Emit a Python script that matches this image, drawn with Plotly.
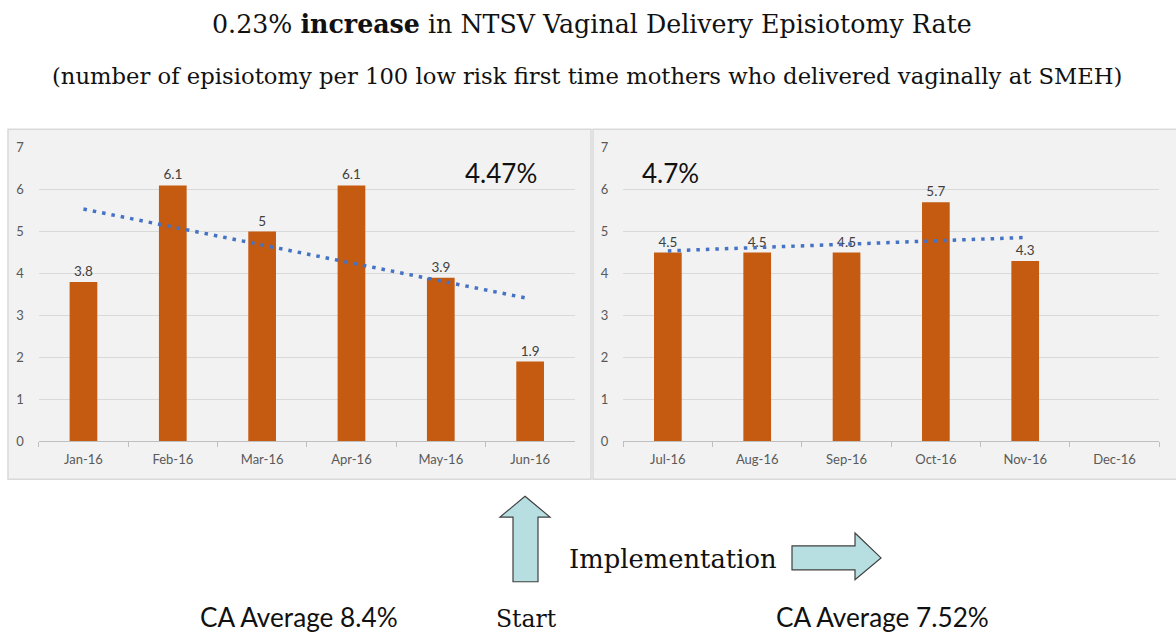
import numpy as np
import plotly.graph_objects as go

W, H = 1176, 636

months_h1 = ["Jan-16", "Feb-16", "Mar-16", "Apr-16", "May-16", "Jun-16"]
rates_h1 = [3.8, 6.1, 5.0, 6.1, 3.9, 1.9]
months_h2 = ["Jul-16", "Aug-16", "Sep-16", "Oct-16", "Nov-16", "Dec-16"]
rates_h2 = [4.5, 4.5, 4.5, 5.7, 4.3, None]
y_ticks = [0, 1, 2, 3, 4, 5, 6, 7]
avg_h1_label = "4.47%"
avg_h2_label = "4.7%"

BAR = "#c55a11"
TREND = "#4472c4"
SANS = "Lato, 'Open Sans', sans-serif"
SERIF = "'DejaVu Serif', 'Liberation Serif', serif"

# vertical calibration of the rendered page (measured offset / scale)
OY, SY = 6.2, 0.98


def px(x, y):
    return x / W, 1 - ((y - OY) / SY) / H


def fmt(v):
    return ("%g" % v)


def trend(vals):
    xs = np.array([i for i, v in enumerate(vals) if v is not None], float)
    ys = np.array([v for v in vals if v is not None], float)
    m, b = np.polyfit(xs, ys, 1)
    return xs, m * xs + b


fig = go.Figure()

for months, vals, xa, ya in [(months_h1, rates_h1, "x", "y"), (months_h2, rates_h2, "x2", "y2")]:
    fig.add_trace(go.Bar(
        x=months, y=vals, xaxis=xa, yaxis=ya, width=0.31,
        marker=dict(color=BAR, line=dict(width=0)),
        text=[fmt(v) if v is not None else "" for v in vals],
        textposition="outside", cliponaxis=False,
        textfont=dict(family=SANS, size=13.5, color="#404040"),
        showlegend=False, hoverinfo="x+y"))
    tx, ty = trend(vals)
    fig.add_trace(go.Scatter(
        x=[months[int(i)] for i in tx], y=ty, xaxis=xa, yaxis=ya, mode="lines",
        line=dict(color=TREND, width=3.5, dash="3.5px,6px"),
        showlegend=False, hoverinfo="skip"))

# panel backgrounds
shapes = []
for x0, x1 in [(8, 591), (593, 1180)]:
    a0, b0 = px(x0, 480)
    a1, b1 = px(x1, 128)
    shapes.append(dict(type="rect", xref="paper", yref="paper", x0=a0, x1=a1, y0=b0, y1=b1,
                       fillcolor="#f2f2f2", line=dict(color="#d9d9d9", width=1.5), layer="below"))


def poly_path(pts):
    s = ""
    for i, (x, y) in enumerate(pts):
        a, b = px(x, y)
        s += ("M" if i == 0 else "L") + f"{a:.5f},{b:.5f} "
    return s + "Z"


up_arrow = [(525, 497), (550, 518), (538, 518), (538, 583), (513, 583), (513, 518), (500, 518)]
right_arrow = [(792, 547), (855, 547), (855, 534), (881, 559), (855, 581), (855, 571), (792, 571)]
for pts in (up_arrow, right_arrow):
    shapes.append(dict(type="path", xref="paper", yref="paper", path=poly_path(pts),
                       fillcolor="#b7dee0", line=dict(color="#3f3f3f", width=1.2)))

axis_common = dict(
    tickfont=dict(family=SANS, size=13, color="#595959"),
)

y_dom = [px(0, 441.7)[1], px(0, 146.7)[1]]
fig.update_layout(
    width=W, height=H, margin=dict(l=0, r=0, t=0, b=0),
    paper_bgcolor="white", plot_bgcolor="rgba(0,0,0,0)",
    xaxis=dict(domain=[38.8 / W, 574.8 / W], type="category", categoryorder="array",
               categoryarray=months_h1, showline=True, linecolor="#bfbfbf", linewidth=1,
               ticks="outside", tickson="boundaries", ticklen=5, tickcolor="#bfbfbf",
               showgrid=False, ticklabelstandoff=6, anchor="y", **axis_common),
    yaxis=dict(domain=y_dom, range=[0, 7], tickvals=y_ticks, showgrid=True,
               gridcolor="#d9d9d9", gridwidth=1, zeroline=False, showline=False,
               ticklabelstandoff=14, anchor="x", **axis_common),
    xaxis2=dict(domain=[623.2 / W, 1159.2 / W], type="category", categoryorder="array",
                categoryarray=months_h2, showline=True, linecolor="#bfbfbf", linewidth=1,
                ticks="outside", tickson="boundaries", ticklen=5, tickcolor="#bfbfbf",
                showgrid=False, ticklabelstandoff=6, anchor="y2", **axis_common),
    yaxis2=dict(domain=y_dom, range=[0, 7], tickvals=y_ticks, showgrid=True,
                gridcolor="#d9d9d9", gridwidth=1, zeroline=False, showline=False,
                ticklabelstandoff=14, anchor="x2", **axis_common),
    shapes=shapes,
)

annots = [
    (592, 22, "0.23% <b>increase</b> in NTSV Vaginal Delivery Episiotomy Rate", SERIF, 25.3, "#111"),
    (587, 75, "(number of episiotomy per 100 low risk first time mothers who delivered vaginally at SMEH)", SERIF, 22.7, "#111"),
    (501, 172, avg_h1_label, SANS, 26, "#111"),
    (670, 172, avg_h2_label, SANS, 26, "#111"),
    (673, 560, "Implementation", SERIF, 25.8, "#111"),
    (526, 620, "Start", SERIF, 23.5, "#111"),
    (299, 618, "CA Average 8.4%", SANS, 26.2, "#111"),
    (882, 618, "CA Average 7.52%", SANS, 26.2, "#111"),
]
for x, y, t, f, s, c in annots:
    a, b = px(x, y)
    fig.add_annotation(x=a, y=b, xref="paper", yref="paper", text=t, showarrow=False,
                       xanchor="center", yanchor="middle", font=dict(family=f, size=s, color=c))

fig.write_html(
    "out.html",
    config={"displayModeBar": False},
    post_script=(
        "document.body.style.margin='0';"
        "document.body.style.overflow='hidden';"
    ),
)
